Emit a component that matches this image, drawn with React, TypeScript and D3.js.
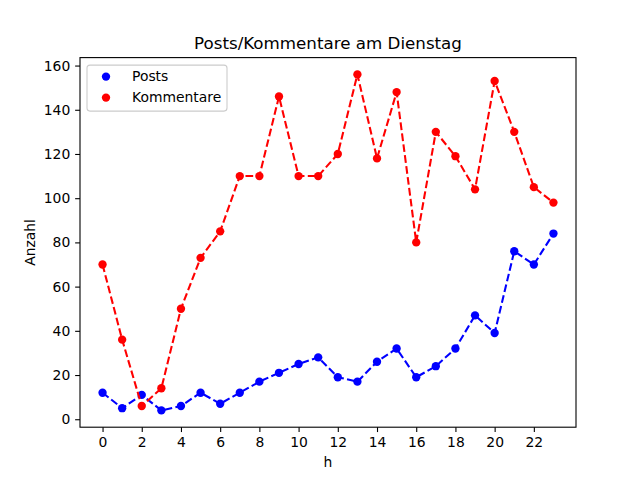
import { useEffect, useRef } from 'react';
import * as d3 from 'd3';

const hours = d3.range(0, 24);
const posts = [12, 5, 11, 4, 6, 12, 7, 12, 17, 21, 25, 28, 19, 17, 26, 32, 19, 24, 32, 47, 39, 76, 70, 84];
const kommentare = [70, 36, 6, 14, 50, 73, 85, 110, 110, 146, 110, 110, 120, 156, 118, 148, 80, 130, 119, 104, 153, 130, 105, 98];
const xTicks = [0, 2, 4, 6, 8, 10, 12, 14, 16, 18, 20, 22];
const yTicks = [0, 20, 40, 60, 80, 100, 120, 140, 160];

const seriesList = [
  { name: 'Posts', values: posts, color: '#0000ff' },
  { name: 'Kommentare', values: kommentare, color: '#ff0000' },
];

export default function App() {
  const svgRef = useRef<SVGSVGElement>(null);

  useEffect(() => {
    if (!svgRef.current) return;
    const svg = d3.select(svgRef.current);
    svg.selectAll('*').remove();

    const width = 640;
    const height = 480;
    const margin = { top: 57.6, right: 64, bottom: 52.8, left: 80 };
    const font = 'DejaVu Sans, sans-serif';

    const x = d3.scaleLinear().domain([-1.15, 24.15]).range([margin.left, width - margin.right]);
    const y = d3.scaleLinear().domain([-3.6, 163.6]).range([height - margin.bottom, margin.top]);

    svg.append('rect').attr('width', width).attr('height', height).attr('fill', '#fff');

    const plot = svg.append('g');

    // Lines and markers
    seriesList.forEach(s => {
      const line = d3.line<number>()
        .x((_, i) => x(hours[i]))
        .y(d => y(d));
      plot.append('path')
        .datum(s.values)
        .attr('d', line)
        .attr('fill', 'none')
        .attr('stroke', s.color)
        .attr('stroke-width', 2.08)
        .attr('stroke-dasharray', '7.7,3.3');
      plot.selectAll(null)
        .data(s.values)
        .enter().append('circle')
        .attr('cx', (_, i) => x(hours[i]))
        .attr('cy', d => y(d))
        .attr('r', 4.17)
        .attr('fill', s.color);
    });

    // Axes
    const xAxis = svg.append('g')
      .attr('transform', `translate(0,${height - margin.bottom})`)
      .call(d3.axisBottom(x).tickValues(xTicks).tickSize(4.86).tickPadding(4.9).tickFormat(d3.format('d')));
    const yAxis = svg.append('g')
      .attr('transform', `translate(${margin.left},0)`)
      .call(d3.axisLeft(y).tickValues(yTicks).tickSize(4.86).tickPadding(4.9).tickFormat(d3.format('d')));

    [xAxis, yAxis].forEach(g => {
      g.select('.domain').remove();
      g.selectAll('line').attr('stroke', '#000').attr('stroke-width', 1.1);
      g.selectAll('text').attr('font-family', font).attr('font-size', 13.9).attr('fill', '#000');
    });

    // Frame
    svg.append('rect')
      .attr('x', margin.left)
      .attr('y', margin.top)
      .attr('width', width - margin.left - margin.right)
      .attr('height', height - margin.top - margin.bottom)
      .attr('fill', 'none')
      .attr('stroke', '#000')
      .attr('stroke-width', 1.1);

    // Title and labels
    svg.append('text')
      .attr('x', (margin.left + width - margin.right) / 2)
      .attr('y', 49)
      .attr('text-anchor', 'middle')
      .attr('font-family', font)
      .attr('font-size', 16.7)
      .text('Posts/Kommentare am Dienstag');

    svg.append('text')
      .attr('x', (margin.left + width - margin.right) / 2)
      .attr('y', 467)
      .attr('text-anchor', 'middle')
      .attr('font-family', font)
      .attr('font-size', 13.9)
      .text('h');

    svg.append('text')
      .attr('transform', `translate(35,${(margin.top + height - margin.bottom) / 2}) rotate(-90)`)
      .attr('text-anchor', 'middle')
      .attr('font-family', font)
      .attr('font-size', 13.9)
      .text('Anzahl');

    // Legend
    const legend = svg.append('g').attr('transform', `translate(${margin.left + 7},${margin.top + 7.5})`);
    legend.append('rect')
      .attr('width', 140)
      .attr('height', 46)
      .attr('rx', 3)
      .attr('fill', '#fff')
      .attr('fill-opacity', 0.8)
      .attr('stroke', '#cccccc')
      .attr('stroke-width', 1.1);
    seriesList.forEach((s, i) => {
      const ly = 11.5 + i * 21;
      legend.append('circle')
        .attr('cx', 19)
        .attr('cy', ly)
        .attr('r', 4.17)
        .attr('fill', s.color);
      legend.append('text')
        .attr('x', 45)
        .attr('y', ly)
        .attr('dy', '0.35em')
        .attr('font-family', font)
        .attr('font-size', 13.9)
        .text(s.name);
    });
  }, []);

  return (
    <svg
      ref={svgRef}
      width={640}
      height={480}
      style={{ position: 'absolute', left: 0, top: 0, display: 'block' }}
    />
  );
}
